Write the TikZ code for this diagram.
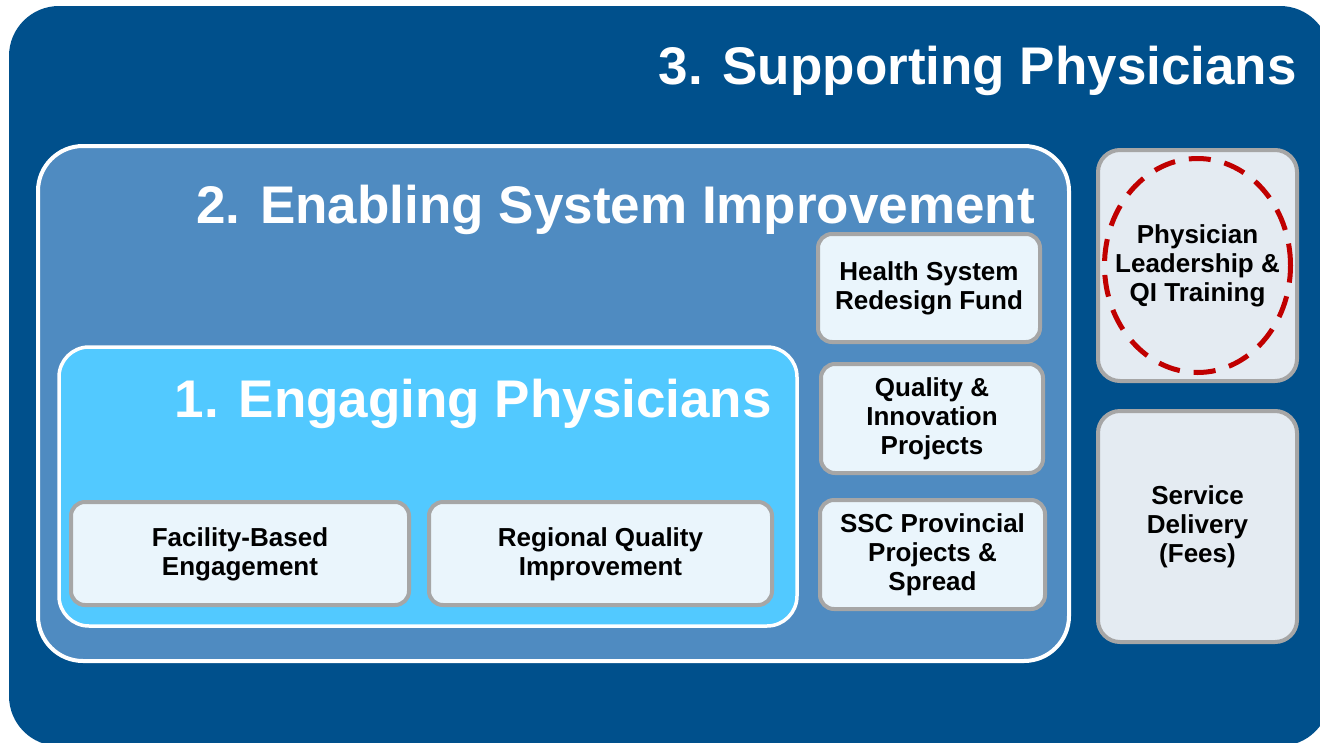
\documentclass[tikz,border=0pt]{standalone}
\usepackage{fontspec}
\setmainfont{Liberation Sans}
\usepackage{xcolor}
\usepackage{tikz}
\usetikzlibrary{calc}
\definecolor{outerblue}{HTML}{00508C}
\definecolor{midblue}{HTML}{4F8BC1}
\definecolor{lightblue}{HTML}{52C9FF}
\definecolor{boxfill}{HTML}{EAF5FC}
\definecolor{sidefill}{HTML}{E4EBF2}
\definecolor{boxline}{HTML}{A6A6A6}
\definecolor{ring}{HTML}{C00000}
\tikzset{
  panel/.style={draw=white, line width=4pt},
  item/.style={draw=boxline, fill=boxfill, line width=4pt, rounded corners=14pt,
    align=center, font=\fontsize{26}{29}\selectfont\bfseries, text=black, inner sep=0pt},
  side/.style={item, fill=sidefill, rounded corners=22pt},
  headline/.style={anchor=base east, text=white, font=\fontsize{53}{60}\selectfont\bfseries, inner sep=0pt}
}
\begin{document}
\begin{tikzpicture}[x=1pt,y=-1pt]
  \useasboundingbox (0,0) rectangle (1320,742);
  \clip (0,0) rectangle (1320,742);
  \fill[white] (0,0) rectangle (1320,742);

  % level 3
  \fill[outerblue, rounded corners=50pt] (9,6) rectangle (1330,746);
  \node[headline] (t3) at (1297,84) {3. Supporting Physicians};

  % level 2
  \draw[panel, fill=midblue, rounded corners=45pt] (38,146) rectangle (1069,661);
  \node[headline] (t2) at (1035,223) {2. Enabling System Improvement};

  % level 1
  \draw[panel, line width=3.5pt, fill=lightblue, rounded corners=30pt] (59,347) rectangle (797,626);
  \node[headline] (t1) at (772,417) {1. Engaging Physicians};

  \node[item, minimum width=338pt, minimum height=103pt] (fac) at (240,553.5) {\strut Facility-Based\\Engagement};
  \node[item, minimum width=343pt, minimum height=103pt] (reg) at (600.5,553.5) {\strut Regional Quality\\Improvement};

  \node[item, minimum width=222pt, minimum height=108pt] (hsrf) at (929,288) {\strut Health System\\Redesign Fund};
  \node[item, minimum width=222pt, minimum height=109pt] (qip) at (932,418.5) {\strut Quality \&\\Innovation\\Projects};
  \node[item, minimum width=225pt, minimum height=109pt] (ssc) at (932.5,554.5) {\strut SSC Provincial\\Projects \&\\Spread};

  \node[side, minimum width=199pt, minimum height=231pt] (lead) at (1197.5,265.5) {\strut Physician\\Leadership \&\\QI Training};
  \node[side, minimum width=199pt, minimum height=231pt] (fees) at (1197.5,526.5) {\strut Service\\Delivery\\(Fees)};

  \draw[ring, line width=5pt, dash pattern=on 22pt off 14pt] (lead.center) ellipse [x radius=93pt, y radius=107pt];
\end{tikzpicture}
\end{document}
